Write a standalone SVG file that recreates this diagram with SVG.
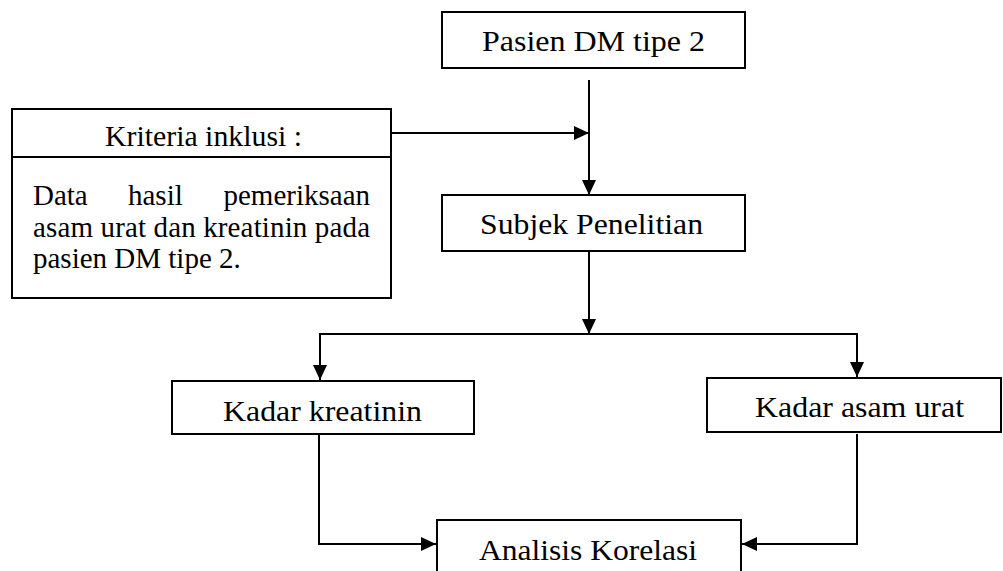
<svg xmlns="http://www.w3.org/2000/svg" width="1003" height="571" viewBox="0 0 1003 571">
<style>
.box{fill:#fff;stroke:#000;stroke-width:2}
.t{font-family:'Liberation Serif','Times New Roman',serif;font-size:30px;fill:#000}
.b{font-family:'Liberation Serif','Times New Roman',serif;font-size:29px;fill:#000}
.c{fill:none;stroke:#000;stroke-width:2}
</style>
<defs>
<marker id="arr" markerUnits="userSpaceOnUse" markerWidth="15" markerHeight="14" refX="15" refY="7" orient="auto">
<path d="M0,0 L15,7 L0,14 z" fill="#000"/>
</marker>
</defs>
<rect width="1003" height="571" fill="#fff"/>
<g id="connectors">
<line class="c" x1="589" y1="80" x2="589" y2="195" marker-end="url(#arr)"/>
<line class="c" x1="391" y1="133" x2="589" y2="133" marker-end="url(#arr)"/>
<line class="c" x1="589" y1="251" x2="589" y2="334" marker-end="url(#arr)"/>
<polyline class="c" points="320,377 320,334 857,334 857,377"/>
<line class="c" x1="320" y1="334" x2="320" y2="380" marker-end="url(#arr)"/>
<line class="c" x1="857" y1="334" x2="857" y2="377" marker-end="url(#arr)"/>
<polyline class="c" points="319,434 319,544 436,544" marker-end="url(#arr)"/>
<polyline class="c" points="857,434 857,544 742,544" marker-end="url(#arr)"/>
</g>
<g id="pasien">
<rect class="box" x="442" y="12" width="303" height="56"/>
<text class="t" x="482" y="51" textLength="223" lengthAdjust="spacingAndGlyphs">Pasien DM tipe 2</text>
</g>
<g id="kriteria">
<rect class="box" x="12" y="109" width="379" height="189"/>
<line class="c" x1="12" y1="157" x2="391" y2="157"/>
<text class="b" x="105" y="146" textLength="197" lengthAdjust="spacingAndGlyphs">Kriteria inklusi :</text>
<text class="b" x="33" y="205">Data</text>
<text class="b" x="128" y="205">hasil</text>
<text class="b" x="370" y="205" text-anchor="end">pemeriksaan</text>
<text class="b" x="33" y="237" textLength="337" lengthAdjust="spacing">asam urat dan kreatinin pada</text>
<text class="b" x="33" y="268">pasien DM tipe 2.</text>
</g>
<g id="subjek">
<rect class="box" x="442" y="195" width="303" height="56"/>
<text class="t" x="480" y="234" textLength="223" lengthAdjust="spacingAndGlyphs">Subjek Penelitian</text>
</g>
<g id="kreatinin">
<rect class="box" x="172" y="381" width="302" height="53"/>
<text class="t" x="223" y="421" textLength="199" lengthAdjust="spacingAndGlyphs">Kadar kreatinin</text>
</g>
<g id="asamurat">
<rect class="box" x="707" y="378" width="294" height="54"/>
<text class="t" x="755" y="417" textLength="209" lengthAdjust="spacingAndGlyphs">Kadar asam urat</text>
</g>
<g id="analisis">
<rect class="box" x="437" y="520" width="304" height="60"/>
<text class="t" x="479" y="560" textLength="218" lengthAdjust="spacingAndGlyphs">Analisis Korelasi</text>
</g>
</svg>
